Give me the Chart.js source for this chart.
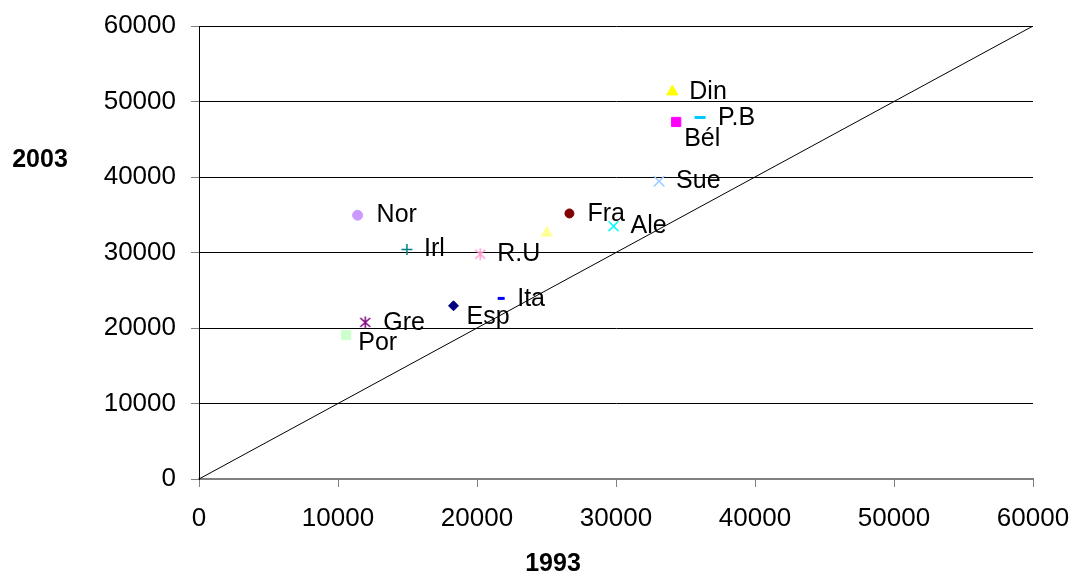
<!DOCTYPE html>
<html lang="fr">
<head>
    <meta charset="UTF-8">
    <title>1993 / 2003</title>
    <style>
        body {
            margin: 0;
            background: #ffffff;
        }
        .chart-container {
            position: relative;
            width: 1072px;
            height: 576px;
        }
    </style>
</head>
<body>
    <div class="chart-container">
        <canvas id="scatterChart"></canvas>
    </div>
    <script src="https://cdn.jsdelivr.net/npm/chart.js"></script>
    <script>
        // values per country: 1993 on x, 2003 on y
        const countries = ['Din', 'P.B', 'Bél', 'Sue', 'Fra', '', 'Ale', 'Nor', 'Irl', 'R.U', 'Ita', 'Esp', 'Gre', 'Por'];
        const values1993 = [34050, 36050, 34330, 33100, 26650, 25030, 29820, 11410, 14960, 20230, 21740, 18310, 11960, 10590];
        const values2003 = [51300, 47880, 47290, 39440, 35170, 32600, 33490, 34940, 30400, 29780, 23920, 22940, 20740, 19060];
        const axisTicks = [0, 10000, 20000, 30000, 40000, 50000, 60000];

        // marker look for each country
        const markerColors = ['#FFFF00', '#00CCFF', '#FF00FF', '#99CCFF', '#800000', '#FFFF99', '#00FFFF',
                              '#CC99FF', '#008080', '#FF99CC', '#0000FF', '#000080', '#800080', '#CCFFCC'];
        const markerShapes = ['triangle', 'line', 'rect', 'crossRot', 'circle', 'triangle', 'crossRot',
                              'circle', 'cross', 'star6', 'line', 'rectRot', 'star6', 'rect'];
        const markerSizes = [6.5, 5.5, 6.5, 7.5, 4.5, 6.5, 7, 5, 5.5, 6, 3.5, 5, 6, 6.5];
        const markerWidths = [1, 3, 1, 1.5, 1, 1, 1.5, 1, 1.5, 1.5, 3, 1, 1.5, 1];
        // label shift from the marker, in px
        const labelShift = [[17, 0], [18, 1], [8, 17], [17, 0], [18, 1], [17, 0], [17, 0],
                            [19, 0], [17, 0], [17, 0], [16, 1], [13, 11], [18, 1], [12, 8]];

        const FONT = "'Liberation Sans', Arial, sans-serif";

        // six-armed asterisk: an X with a vertical stroke
        function star6(color) {
            const c = document.createElement('canvas');
            c.width = 13;
            c.height = 13;
            const g = c.getContext('2d');
            g.strokeStyle = color;
            g.lineWidth = 1.5;
            g.beginPath();
            g.moveTo(6.5, 0.5);
            g.lineTo(6.5, 12.5);
            g.moveTo(1.5, 2);
            g.lineTo(11.5, 11);
            g.moveTo(11.5, 2);
            g.lineTo(1.5, 11);
            g.stroke();
            return c;
        }

        const pointStyles = markerShapes.map((s, i) => s === 'star6' ? star6(markerColors[i]) : s);
        const points = countries.map((c, i) => ({ x: values1993[i], y: values2003[i] }));

        const pointLabels = {
            id: 'pointLabels',
            afterDatasetsDraw(chart) {
                const ctx = chart.ctx;
                const meta = chart.getDatasetMeta(0);
                ctx.save();
                ctx.fillStyle = '#000000';
                ctx.font = '25px ' + FONT;
                ctx.textAlign = 'left';
                ctx.textBaseline = 'middle';
                meta.data.forEach((pt, i) => {
                    if (!countries[i]) return;
                    ctx.fillText(countries[i], pt.x + labelShift[i][0], pt.y + labelShift[i][1]);
                });
                ctx.restore();
            }
        };

        // axis titles sit flat, outside the plot
        const axisTitles = {
            id: 'axisTitles',
            afterDraw(chart) {
                const ctx = chart.ctx;
                ctx.save();
                ctx.fillStyle = '#000000';
                ctx.font = 'bold 25px ' + FONT;
                ctx.textAlign = 'center';
                ctx.textBaseline = 'middle';
                ctx.fillText('2003', 40, 160);
                ctx.fillText('1993', 553, 564);
                ctx.restore();
            }
        };

        // fixed plot box: no extra room reserved for tick labels
        function fixX(s) {
            s.height = 97;
            s.paddingLeft = 0;
            s.paddingRight = 0;
        }
        function fixY(s) {
            s.width = 199;
            s.paddingTop = 0;
            s.paddingBottom = 0;
        }

        new Chart(document.getElementById('scatterChart'), {
            type: 'scatter',
            data: {
                datasets: [
                    {
                        label: 'pays',
                        data: points,
                        pointStyle: pointStyles,
                        pointRadius: markerSizes,
                        pointBackgroundColor: markerColors,
                        pointBorderColor: markerColors,
                        pointBorderWidth: markerWidths
                    },
                    {
                        type: 'line',
                        label: '1993 = 2003',
                        data: [{ x: axisTicks[0], y: axisTicks[0] }, { x: axisTicks[6], y: axisTicks[6] }],
                        borderColor: '#000000',
                        borderWidth: 1,
                        pointRadius: 0,
                        fill: false
                    }
                ]
            },
            options: {
                responsive: true,
                maintainAspectRatio: false,
                animation: false,
                events: [],
                layout: {
                    padding: { left: 0, right: 39, top: 26, bottom: 0 }
                },
                plugins: {
                    legend: { display: false },
                    tooltip: { enabled: false }
                },
                scales: {
                    x: {
                        type: 'linear',
                        min: axisTicks[0],
                        max: axisTicks[6],
                        afterFit: fixX,
                        afterBuildTicks: (s) => { s.ticks = axisTicks.map(v => ({ value: v })); },
                        border: { color: '#808080', width: 2 },
                        grid: {
                            drawOnChartArea: false,
                            drawTicks: true,
                            tickLength: 8,
                            tickColor: '#808080'
                        },
                        ticks: {
                            color: '#000000',
                            padding: 16,
                            maxRotation: 0,
                            callback: (v) => String(v),
                            font: { family: FONT, size: 26 }
                        }
                    },
                    y: {
                        type: 'linear',
                        min: axisTicks[0],
                        max: axisTicks[6],
                        afterFit: fixY,
                        afterBuildTicks: (s) => { s.ticks = axisTicks.map(v => ({ value: v })); },
                        border: { color: '#000000', width: 1 },
                        grid: {
                            color: '#000000',
                            lineWidth: 1,
                            drawTicks: true,
                            tickLength: 8,
                            tickColor: '#808080'
                        },
                        ticks: {
                            color: '#000000',
                            padding: 15,
                            callback: (v) => String(v),
                            font: { family: FONT, size: 26 }
                        }
                    }
                }
            },
            plugins: [pointLabels, axisTitles]
        });
    </script>
</body>
</html>
